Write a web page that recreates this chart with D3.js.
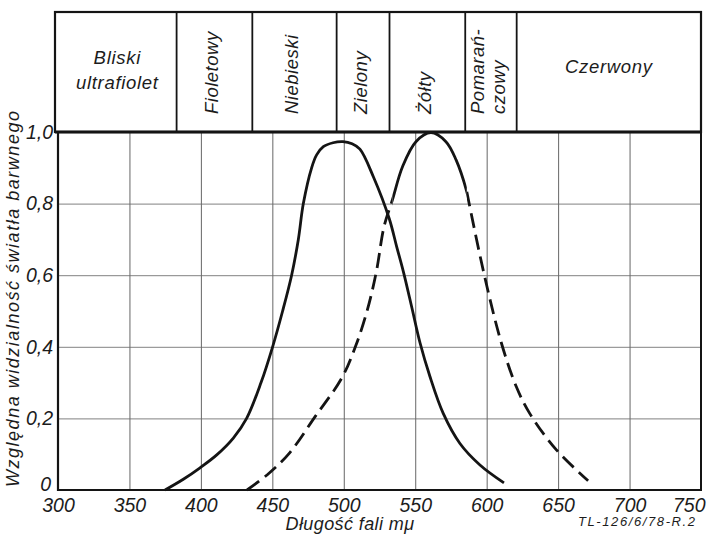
<!DOCTYPE html>
<html>
<head>
<meta charset="utf-8">
<script src="https://cdn.jsdelivr.net/npm/d3@7"></script>
<style>
  html, body { margin: 0; padding: 0; background: #fff; }
  svg { display: block; }
  text { font-family: "Liberation Sans", "DejaVu Sans", sans-serif; font-style: italic; fill: #1c1c1c; }
</style>
</head>
<body>
<script>
// ---- data ----
const xTicks = [300, 350, 400, 450, 500, 550, 600, 650, 700, 750];
const yTicks = [0, 0.2, 0.4, 0.6, 0.8, 1.0];
const yTickLabels = ["0", "0,2", "0,4", "0,6", "0,8", "1,0"];

// colour bands (wavelength boundaries, mμ)
const bandEdges = [300, 383, 436, 495, 532, 585, 621, 750];
const bandLabels = [["Bliski", "ultrafiolet"], ["Fioletowy"], ["Niebieski"], ["Zielony"], ["Żółty"], ["Pomarań-", "czowy"], ["Czerwony"]];
const bandVertical = [false, true, true, true, true, true, false];

// solid curve
const curveAWl = [374.9, 387.7, 399.4, 411.1, 422.7, 432.0, 442.1, 450.2, 457.2, 463.5, 468.2, 471.7, 477.5, 481.0, 485.7, 492.5, 499.4, 505.8, 511.3, 520.7, 531.9, 537.0, 541.7, 547.5, 553.3, 560.3, 569.6, 581.3, 595.3, 612.1];
const curveAV  = [0, 0.030, 0.062, 0.098, 0.145, 0.200, 0.300, 0.400, 0.500, 0.600, 0.700, 0.800, 0.900, 0.936, 0.959, 0.970, 0.973, 0.967, 0.952, 0.875, 0.757, 0.680, 0.610, 0.512, 0.412, 0.317, 0.214, 0.130, 0.070, 0.020];

// dashed curve (solid near its top)
const curveBWl = [432.3, 446.3, 461.5, 480.3, 498.5, 508.3, 516.5, 522.8, 528.2, 534.0, 541.1, 550.5, 561.0, 571.5, 578.6, 586.1, 597.8, 610.2, 620.7, 630.1, 648.8, 671.0];
const curveBV  = [0, 0.042, 0.101, 0.207, 0.312, 0.402, 0.503, 0.610, 0.736, 0.810, 0.903, 0.973, 0.998, 0.973, 0.922, 0.833, 0.610, 0.412, 0.289, 0.214, 0.112, 0.026];
const curveBSolidRange = [534.0, 586.1];

// ---- drawing ----
const W = 708, H = 534;
const svg = d3.select("body").append("svg").attr("width", W).attr("height", H);

const x = d3.scaleLinear().domain([300, 750]).range([58, 701]);
const y = d3.scaleLinear().domain([0, 1]).range([490, 132]);

const ink = "#141414";
const fontFam = "Liberation Sans, DejaVu Sans, sans-serif";

// grid
svg.append("g")
  .attr("transform", `translate(0,${y(0)})`)
  .call(d3.axisBottom(x).tickValues(xTicks.slice(1, -1)).tickSize(-(y(0) - y(1))).tickFormat(""))
  .call(g => g.select(".domain").remove())
  .call(g => g.selectAll("line").attr("stroke", "#555").attr("stroke-width", 0.9));
svg.append("g")
  .attr("transform", `translate(${x(300)},0)`)
  .call(d3.axisLeft(y).tickValues(yTicks.slice(1, -1)).tickSize(-(x(750) - x(300))).tickFormat(""))
  .call(g => g.select(".domain").remove())
  .call(g => g.selectAll("line").attr("stroke", "#6a6a6a").attr("stroke-width", 0.85));

// frame
svg.append("line").attr("x1", x(300)).attr("x2", x(750)).attr("y1", y(0)).attr("y2", y(0)).attr("stroke", ink).attr("stroke-width", 2.2);
svg.append("line").attr("x1", x(300)).attr("x2", x(300)).attr("y1", y(0) + 1).attr("y2", y(1)).attr("stroke", ink).attr("stroke-width", 2.2);
svg.append("line").attr("x1", x(750)).attr("x2", x(750)).attr("y1", y(0) + 1).attr("y2", y(1)).attr("stroke", ink).attr("stroke-width", 2);

// band box
const bandTop = 12;
svg.append("rect").attr("x", x(300) - 3).attr("y", bandTop).attr("width", x(750) - x(300) + 3).attr("height", y(1) - bandTop)
  .attr("fill", "none").attr("stroke", ink).attr("stroke-width", 2.2);
svg.append("line").attr("x1", x(300) - 3).attr("x2", x(750)).attr("y1", y(1)).attr("y2", y(1)).attr("stroke", ink).attr("stroke-width", 2.8);
svg.selectAll(".bandsep").data(bandEdges.slice(1, -1)).enter().append("line")
  .attr("x1", d => x(d)).attr("x2", d => x(d)).attr("y1", bandTop).attr("y2", y(1))
  .attr("stroke", ink).attr("stroke-width", 1.8);

bandLabels.forEach((lines, i) => {
  const cx = (x(bandEdges[i]) + x(bandEdges[i + 1])) / 2;
  if (!bandVertical[i]) {
    const n = lines.length;
    const cy = n === 1 ? 66 : 57;
    lines.forEach((t, j) => {
      svg.append("text").attr("x", cx).attr("y", cy + j * 25).attr("text-anchor", "middle")
        .attr("dominant-baseline", "central").attr("font-size", 18.5).attr("letter-spacing", 0.7).text(t);
    });
  } else {
    const n = lines.length;
    lines.forEach((t, j) => {
      const lx = cx + (j - (n - 1) / 2) * 21 + 4;
      svg.append("text").attr("transform", `translate(${lx},114) rotate(-90)`)
        .attr("text-anchor", "start").attr("font-size", 18.5).attr("letter-spacing", 0.5).text(t);
    });
  }
});

// x tick labels
svg.append("g")
  .attr("transform", `translate(0,${y(0)})`)
  .call(d3.axisBottom(x).tickValues(xTicks).tickSize(0).tickPadding(8).tickFormat(d3.format("d")))
  .call(g => g.select(".domain").remove())
  .call(g => g.selectAll("text").attr("font-size", 19.5).attr("fill", "#1c1c1c")
    .attr("font-family", fontFam).attr("font-style", "italic"))
  .call(g => g.selectAll(".tick").filter(d => d === 750).select("text").attr("text-anchor", "end").attr("x", 4));

// y tick labels
svg.append("g")
  .attr("transform", `translate(${x(300)},0)`)
  .call(d3.axisLeft(y).tickValues(yTicks).tickSize(0).tickPadding(5).tickFormat((d, i) => yTickLabels[i]))
  .call(g => g.select(".domain").remove())
  .call(g => g.selectAll("text").attr("font-size", 19.5).attr("fill", "#1c1c1c")
    .attr("font-family", fontFam).attr("font-style", "italic"))
  .call(g => g.selectAll(".tick").filter(d => d === 0).select("text").attr("y", -6).attr("x", -7));

// axis titles
svg.append("text").attr("x", 350).attr("y", 530).attr("text-anchor", "middle").attr("font-size", 18)
  .attr("letter-spacing", 0.4).text("Długość fali mμ");
svg.append("text").attr("transform", "translate(19,487) rotate(-90)").attr("text-anchor", "start")
  .attr("font-size", 18).attr("textLength", 376).attr("lengthAdjust", "spacing")
  .text("Względna widzialność światła barwnego");
svg.append("text").attr("x", 578).attr("y", 526).attr("text-anchor", "start").attr("font-size", 13)
  .attr("textLength", 117).attr("lengthAdjust", "spacing")
  .text("TL-126/6/78-R.2");

// curves
const line = d3.line().x(d => x(d[0])).y(d => y(d[1])).curve(d3.curveCatmullRom.alpha(0.5));
const ptsA = curveAWl.map((w, i) => [w, curveAV[i]]);
const ptsB = curveBWl.map((w, i) => [w, curveBV[i]]);

svg.append("path").attr("d", line(ptsA)).attr("fill", "none").attr("stroke", ink).attr("stroke-width", 2.8);

const defs = svg.append("defs");
defs.append("clipPath").attr("id", "solidB").append("rect")
  .attr("x", x(curveBSolidRange[0])).attr("y", 0)
  .attr("width", x(curveBSolidRange[1]) - x(curveBSolidRange[0])).attr("height", H);
defs.append("clipPath").attr("id", "dashL").append("rect")
  .attr("x", 0).attr("y", 0).attr("width", x(curveBSolidRange[0])).attr("height", H);
defs.append("clipPath").attr("id", "dashR").append("rect")
  .attr("x", x(curveBSolidRange[1])).attr("y", 0).attr("width", W).attr("height", H);

svg.append("path").attr("d", line(ptsB)).attr("fill", "none").attr("stroke", ink).attr("stroke-width", 2.8)
  .attr("stroke-dasharray", "15,7").attr("clip-path", "url(#dashL)");
svg.append("path").attr("d", line(ptsB.filter(p => p[0] >= curveBSolidRange[1]))).attr("fill", "none").attr("stroke", ink).attr("stroke-width", 2.8)
  .attr("stroke-dasharray", "15,7").attr("clip-path", "url(#dashR)");
svg.append("path").attr("d", line(ptsB)).attr("fill", "none").attr("stroke", ink).attr("stroke-width", 2.8)
  .attr("clip-path", "url(#solidB)");
</script>
</body>
</html>
